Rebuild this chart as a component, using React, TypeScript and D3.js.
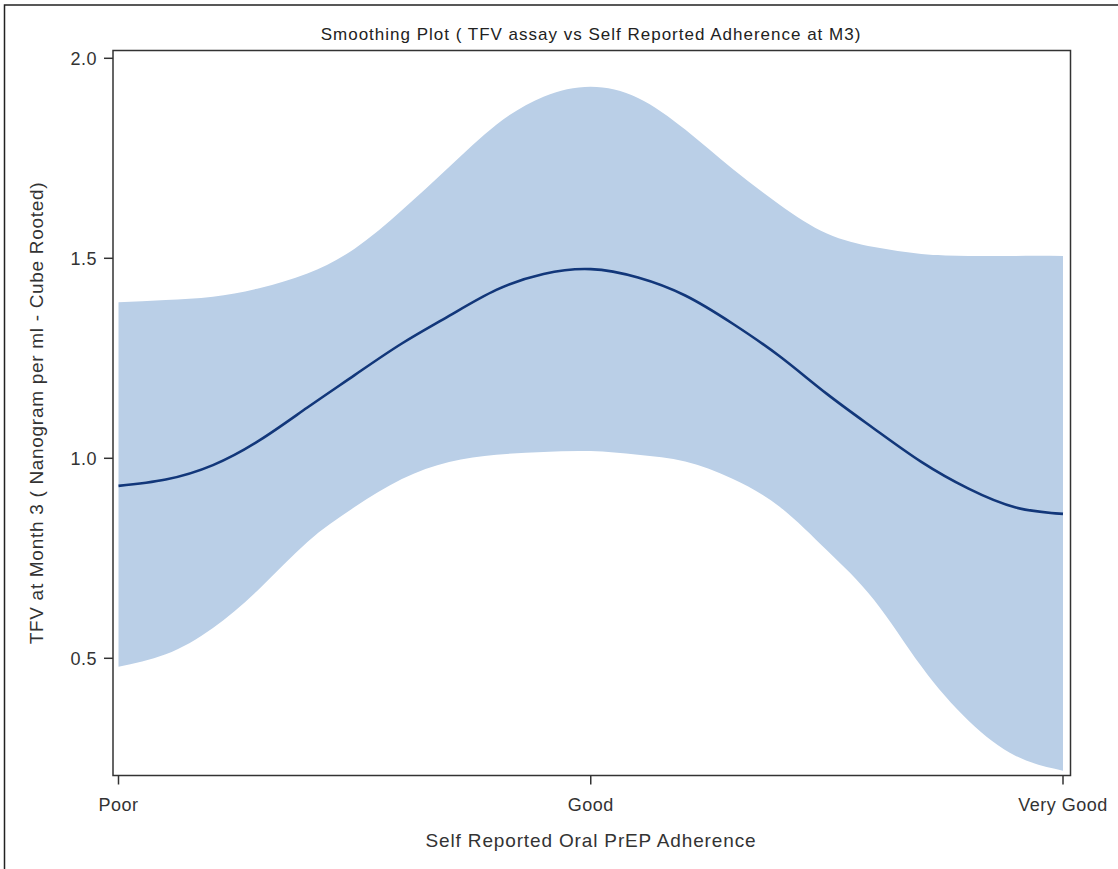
import React from 'react';
import * as d3 from 'd3';

// adherence position 0 = Poor, 1 = Good, 2 = Very Good (sampled every 0.1)
const xPos = [0, 0.1, 0.2, 0.3, 0.4, 0.5, 0.6, 0.7, 0.8, 0.9, 1.0, 1.1, 1.2, 1.3, 1.4, 1.5, 1.6, 1.7, 1.8, 1.9, 2.0];
const fit = [0.931, 0.947, 0.983, 1.046, 1.127, 1.208, 1.287, 1.356, 1.421, 1.461, 1.473, 1.452, 1.407, 1.337, 1.255, 1.161, 1.074, 0.991, 0.924, 0.877, 0.861];
const upper = [1.39, 1.396, 1.404, 1.426, 1.462, 1.524, 1.62, 1.728, 1.834, 1.904, 1.929, 1.901, 1.822, 1.724, 1.634, 1.562, 1.528, 1.511, 1.506, 1.506, 1.506];
const lower = [0.479, 0.51, 0.576, 0.676, 0.791, 0.878, 0.948, 0.991, 1.009, 1.016, 1.018, 1.009, 0.992, 0.949, 0.879, 0.77, 0.646, 0.48, 0.344, 0.256, 0.219];

const xCategories = ['Poor', 'Good', 'Very Good'];
const yTicks = [0.5, 1.0, 1.5, 2.0];

const W = 1118;
const H = 869;
const frame = { left: 113, top: 50.5, right: 1070.5, bottom: 775.5 };
const font = 'Arial, "Liberation Sans", sans-serif';

export default function App() {
  const x = d3.scaleLinear().domain([0, 2]).range([118.5, 1063]);
  const y = d3.scaleLinear().domain([1, 2]).range([458.3, 58.3]);

  const pts = xPos.map((d, i) => ({ x: d, fit: fit[i], lo: lower[i], hi: upper[i] }));

  const band = d3.area<any>()
    .x(d => x(d.x))
    .y0(d => y(d.lo))
    .y1(d => y(d.hi))
    .curve(d3.curveNatural);

  const line = d3.line<any>()
    .x(d => x(d.x))
    .y(d => y(d.fit))
    .curve(d3.curveNatural);

  return (
    <div style={{ position: 'absolute', left: 0, top: 0 }}>
      <svg width={W} height={H} style={{ display: 'block', background: '#fff' }}>
        {/* outer border */}
        <rect x={4.5} y={5} width={W + 20} height={H + 20} fill="none" stroke="#222" strokeWidth={1.5} />

        <text x={591} y={40} textAnchor="middle" fontFamily={font} fontSize={17} letterSpacing={1} fill="#222">
          Smoothing Plot ( TFV assay vs Self Reported Adherence at M3)
        </text>

        <path d={band(pts) || ''} fill="#BACFE7" />
        <path d={line(pts) || ''} fill="none" stroke="#12377A" strokeWidth={2.6} />

        <rect x={frame.left} y={frame.top} width={frame.right - frame.left} height={frame.bottom - frame.top}
          fill="none" stroke="#333" strokeWidth={1.5} />

        {/* y axis */}
        {yTicks.map(t => (
          <g key={t}>
            <line x1={104} x2={frame.left} y1={y(t)} y2={y(t)} stroke="#333" strokeWidth={1.5} />
            <text x={97} y={y(t)} dy="0.35em" textAnchor="end" fontFamily={font} fontSize={18} letterSpacing={0.5} fill="#333">
              {t.toFixed(1)}
            </text>
          </g>
        ))}
        <text transform={`translate(43,413) rotate(-90)`} textAnchor="middle" fontFamily={font} fontSize={19} letterSpacing={0.7} fill="#333">
          TFV at Month 3 ( Nanogram per ml - Cube Rooted)
        </text>

        {/* x axis */}
        {xCategories.map((c, i) => (
          <g key={c}>
            <line x1={x(i)} x2={x(i)} y1={frame.bottom} y2={frame.bottom + 9} stroke="#333" strokeWidth={1.5} />
            <text x={x(i)} y={811} textAnchor="middle" fontFamily={font} fontSize={18} letterSpacing={0.5} fill="#333">{c}</text>
          </g>
        ))}
        <text x={591} y={847} textAnchor="middle" fontFamily={font} fontSize={19} letterSpacing={0.85} fill="#333">
          Self Reported Oral PrEP Adherence
        </text>
      </svg>
    </div>
  );
}
